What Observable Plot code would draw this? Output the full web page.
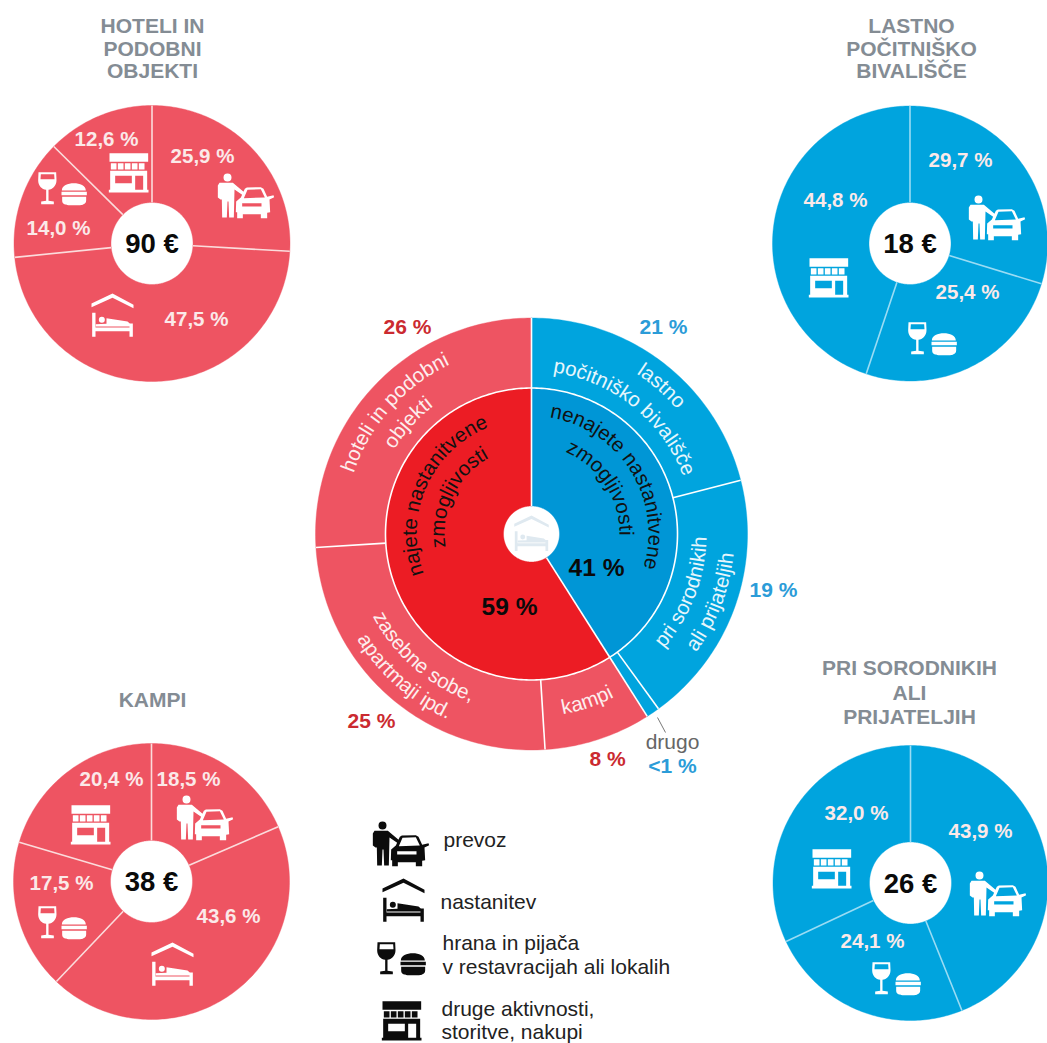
<!DOCTYPE html>
<html lang="sl">
<head>
<meta charset="utf-8">
<title>Izdatki po vrsti nastanitve</title>
<script src="https://cdn.jsdelivr.net/npm/d3@7"></script>
<script src="https://cdn.jsdelivr.net/npm/@observablehq/plot@0.6"></script>
<style>
html,body{margin:0;padding:0;background:#fff}
svg{display:block}
</style>
</head>
<body>
<div id="chart"></div>
<script>
// ---------- values ----------
const expenseKinds = ["prevoz", "nastanitev", "hrana", "druge"];
const hoteliKinds = ["prevoz", "nastanitev", "hrana", "druge"];
const hoteliShares = [25.9, 47.5, 14.0, 12.6];
const hoteliAmount = "90 €";
const lastnoKinds = ["prevoz", "hrana", "druge"];
const lastnoShares = [29.7, 25.4, 44.8];
const lastnoAmount = "18 €";
const kampiKinds = ["prevoz", "nastanitev", "hrana", "druge"];
const kampiShares = [18.5, 43.6, 17.5, 20.4];
const kampiAmount = "38 €";
const sorodnikiKinds = ["prevoz", "hrana", "druge"];
const sorodnikiShares = [43.9, 24.1, 32.0];
const sorodnikiAmount = "26 €";

const innerGroups = ["nenajete nastanitvene zmogljivosti", "najete nastanitvene zmogljivosti"];
const innerShares = [41, 59];
const outerGroups = ["lastno počitniško bivališče", "pri sorodnikih ali prijateljih", "drugo", "kampi", "zasebne sobe, apartmaji ipd.", "hoteli in podobni objekti"];
const outerShares = [21, 19, 1, 8, 25, 26];

const legendLines = [
  ["prevoz"],
  ["nastanitev"],
  ["hrana in pijača", "v restavracijah ali lokalih"],
  ["druge aktivnosti,", "storitve, nakupi"]
];

// ---------- palette and type ----------
const RED = "#ee5462", DEEP_RED = "#ec1c24", BLUE = "#00a4de", DEEP_BLUE = "#0096d6";
const SANS = "'Liberation Sans', Arial, sans-serif";

// ---------- layout (chart space, one unit = one CSS pixel) ----------
const W = 1047, H = 1043;
const hub = {cx: 531, cy: 533.5, r0: 28, r1: 146, r2: 216};

const smallPies = [
  {name: "hoteli", kinds: hoteliKinds, shares: hoteliShares, amount: hoteliAmount, fill: RED, spoke: "#fbdcdc",
   cx: 151.5, cy: 243, r: 138,
   title: [["HOTELI IN", 152, 26], ["PODOBNI", 152, 49], ["OBJEKTI", 152, 71]],
   labels: {prevoz: [202, 156], nastanitev: [196, 319], hrana: [58, 228], druge: [106, 139]},
   icons: {prevoz: [245, 195], nastanitev: [112, 315], hrana: [62, 188], druge: [128, 172]}},
  {name: "lastno", kinds: lastnoKinds, shares: lastnoShares, amount: lastnoAmount, fill: BLUE, spoke: "#9adcf4",
   cx: 909.5, cy: 243, r: 137.5,
   title: [["LASTNO", 911, 26], ["POČITNIŠKO", 911, 49], ["BIVALIŠČE", 911, 71]],
   labels: {prevoz: [960, 160], hrana: [967, 292], druge: [835, 200]},
   icons: {prevoz: [996, 217], hrana: [932, 338], druge: [828, 277]}},
  {name: "kampi", kinds: kampiKinds, shares: kampiShares, amount: kampiAmount, fill: RED, spoke: "#fbdcdc",
   cx: 151, cy: 881, r: 138,
   title: [["KAMPI", 152, 700]],
   labels: {prevoz: [188, 779], nastanitev: [228, 916], hrana: [61, 883], druge: [111, 779]},
   icons: {prevoz: [204, 817], nastanitev: [172, 964], hrana: [62, 922], druge: [90, 824]}},
  {name: "sorodniki", kinds: sorodnikiKinds, shares: sorodnikiShares, amount: sorodnikiAmount, fill: BLUE, spoke: "#9adcf4",
   cx: 910, cy: 882.5, r: 137.5,
   title: [["PRI SORODNIKIH", 909, 668], ["ALI", 909, 693], ["PRIJATELJIH", 909, 717]],
   labels: {prevoz: [980, 831], hrana: [872, 941], druge: [856, 813]},
   icons: {prevoz: [997, 893], hrana: [896, 978], druge: [831, 868]}}
];
const PIE_HOLE = 41;

// outer-ring percentages around the hub
const hubLabels = [
  {text: "21 %", x: 663, y: 327, fill: "#2b9cd8", i: 0},
  {text: "19 %", x: 773, y: 590, fill: "#2b9cd8", i: 1},
  {text: "<1 %", x: 672, y: 766, fill: "#2b9cd8", i: 2},
  {text: "8 %",  x: 607, y: 759, fill: "#cb2a30", i: 3},
  {text: "25 %", x: 371, y: 721, fill: "#cb2a30", i: 4},
  {text: "26 %", x: 407, y: 327, fill: "#cb2a30", i: 5}
];
const hubInnerLabels = [
  {text: "41 %", x: 596, y: 568},
  {text: "59 %", x: 509, y: 607}
];
// curved captions: mid angle (degrees clockwise from 12 o'clock), mid radius, direction
const curved = [
  {t: "lastno", a: 41.5, r: 197, cw: true, fill: "#e6f6fc"},
  {t: "počitniško bivališče", a: 38.6, r: 168, cw: true, fill: "#e6f6fc"},
  {t: "pri sorodnikih", a: 111, r: 170, cw: false, fill: "#e6f6fc"},
  {t: "ali prijateljih", a: 110.7, r: 198, cw: false, fill: "#e6f6fc"},
  {t: "kampi", a: 161.5, r: 178, cw: false, fill: "#fdeeee"},
  {t: "zasebne sobe,", a: 221, r: 173, cw: false, fill: "#fdeeee"},
  {t: "apartmaji ipd.", a: 221.5, r: 198, cw: false, fill: "#fdeeee"},
  {t: "hoteli in podobni", a: 311.6, r: 193, cw: true, fill: "#fdeeee"},
  {t: "objekti", a: 312, r: 166, cw: true, fill: "#fdeeee"},
  {t: "najete nastanitvene", a: 294, r: 120, cw: true, fill: "#111"},
  {t: "zmogljivosti", a: 296, r: 92, cw: true, fill: "#111"},
  {t: "nenajete nastanitvene", a: 58, r: 123, cw: true, fill: "#111"},
  {t: "zmogljivosti", a: 57, r: 94, cw: true, fill: "#111"}
];

const legendIconAt = {prevoz: [400, 843], nastanitev: [403, 900], hrana: [401, 958], druge: [401, 1020]};
const legendTextAt = [
  [[443, 840]],
  [[440, 902]],
  [[442, 943], [442, 967]],
  [[441, 1009], [441, 1032]]
];

// ---------- geometry helpers ----------
const polar = (cx, cy, r, deg) => {
  const t = deg * Math.PI / 180;
  return [cx + r * Math.sin(t), cy - r * Math.cos(t)];
};
function wedge(id, fill, cx, cy, r0, r1, a0, a1) {
  const n = Math.max(2, Math.ceil(a1 - a0));
  const pts = [];
  for (let i = 0; i <= n; ++i) pts.push(polar(cx, cy, r1, a0 + (a1 - a0) * i / n));
  for (let i = n; i >= 0; --i) pts.push(polar(cx, cy, r0, a0 + (a1 - a0) * i / n));
  return pts.map(([x, y]) => ({id, fill, x, y}));
}
const cumulate = shares => {
  const total = d3.sum(shares);
  let run = 0;
  return shares.map(s => { const a0 = run / total * 360; run += s; return [a0, run / total * 360]; });
};

// ---------- icons as Plot.dot symbols (drawn around the dot's centre, r = 28 → legend size) ----------
function iconSymbol(ox, oy, paint) {
  return {
    draw(c, size) {
      const k = Math.sqrt(size / Math.PI) / 84; // source sketch is 3× the legend size
      const X = x => (x - ox) * k, Y = y => (y - oy) * k;
      const pen = {
        poly(pts) { pts.forEach(([x, y], i) => i ? c.lineTo(X(x), Y(y)) : c.moveTo(X(x), Y(y))); c.closePath(); },
        rect(x, y, w, h, hole) {
          const p = [[x, y], [x + w, y], [x + w, y + h], [x, y + h]];
          pen.poly(hole ? p.reverse() : p);
        },
        disc(x, y, r, hole) { c.moveTo(X(x + r), Y(y)); c.arc(X(x), Y(y), r * k, 0, 2 * Math.PI, !!hole); c.closePath(); },
        curve(...a) { c.bezierCurveTo(...a.map((v, i) => i % 2 ? Y(v) : X(v))); },
        move(x, y) { c.moveTo(X(x), Y(y)); }, line(x, y) { c.lineTo(X(x), Y(y)); }, close() { c.closePath(); }
      };
      paint(pen);
    }
  };
}
const carIcon = iconSymbol(150, 100, p => {
  p.disc(96, 46, 12);
  p.poly([[72, 62], [112, 62], [146, 90], [140, 98], [117, 82], [115, 166], [101, 166], [99, 118], [96, 118], [94, 166], [80, 166], [79, 112], [75, 112], [67, 106], [67, 70]]);
  p.poly([[122, 118], [136, 106], [148, 80], [154, 76], [196, 75], [204, 80], [215, 104], [234, 99], [236, 105], [222, 112], [224, 150], [215, 152], [215, 168], [196, 168], [196, 156], [142, 156], [142, 168], [125, 168], [125, 150], [121, 150]]);
  p.poly([[156, 83], [145, 108], [208, 106], [196, 81]]);
  p.rect(140, 123, 58, 10, true);
});
const bedIcon = iconSymbol(160, 270, p => {
  p.poly([[97, 234], [160, 204], [223, 238], [223, 248], [160, 217], [97, 245]]);
  p.rect(99, 262, 10, 72);
  p.rect(211, 294, 10, 40);
  p.rect(99, 306, 122, 11);
  p.disc(128, 283, 9);
  p.poly([[142, 278], [205, 288], [219, 300], [219, 303], [110, 303], [110, 296], [142, 295]]);
});
const foodIcon = iconSymbol(152, 440, p => {
  p.move(80, 391); p.line(133, 391); p.line(134, 415); p.curve(134, 432, 122, 442, 110, 444);
  p.line(110, 477); p.line(126, 479); p.line(126, 487); p.line(88, 487); p.line(88, 479); p.line(103, 477); p.line(103, 444);
  p.curve(90, 442, 79, 432, 79, 415); p.close();
  p.poly([[87, 397], [86, 412], [128, 412], [127, 397]]);
  p.move(150, 446); p.curve(150, 431, 168, 424, 186, 424); p.curve(204, 424, 222, 431, 222, 446); p.close();
  p.rect(149, 450, 76, 10);
  p.move(151, 465); p.line(223, 465); p.line(223, 476); p.curve(223, 486, 212, 490, 205, 490); p.line(170, 490); p.curve(160, 490, 151, 486, 151, 476); p.close();
});
const shopIcon = iconSymbol(152, 636, p => {
  p.rect(95, 578, 116, 26);
  [99, 120, 141, 162, 183].forEach(x => p.rect(x, 608, 17, 19));
  p.rect(97, 631, 111, 59);
  p.rect(112, 646, 50, 22, true);
  p.rect(172, 646, 24, 44, true);
  p.rect(93, 688, 119, 8);
});
const iconOf = {prevoz: carIcon, nastanitev: bedIcon, hrana: foodIcon, druge: shopIcon};

// ---------- derived tables for the marks ----------
const wedges = [];
const spokes = [];
const pieLabels = [];
const amountLabels = [];
const titleLabels = [];
const iconsWhite = [];
const fmt = v => v.toFixed(1).replace(".", ",") + " %";

for (const pie of smallPies) {
  const spans = cumulate(pie.shares);
  pie.kinds.forEach((kind, i) => {
    wedges.push(...wedge(pie.name + i, pie.fill, pie.cx, pie.cy, PIE_HOLE, pie.r, spans[i][0], spans[i][1]));
    const [x1, y1] = polar(pie.cx, pie.cy, PIE_HOLE, spans[i][0]);
    const [x2, y2] = polar(pie.cx, pie.cy, pie.r, spans[i][0]);
    spokes.push({x1, y1, x2, y2, stroke: pie.spoke});
    const at = pie.labels[kind];
    pieLabels.push({text: fmt(pie.shares[i]), x: at[0], y: at[1]});
    const ic = pie.icons[kind];
    iconsWhite.push({kind, x: ic[0], y: ic[1]});
  });
  amountLabels.push({text: pie.amount, x: pie.cx, y: pie.cy + 1});
  pie.title.forEach(([text, x, y]) => titleLabels.push({text, x, y}));
}

const outerFills = [BLUE, BLUE, BLUE, RED, RED, RED];
const innerFills = [DEEP_BLUE, DEEP_RED];
cumulate(outerShares).forEach(([a0, a1], i) => {
  wedges.push(...wedge("outer" + i, outerFills[i], hub.cx, hub.cy, hub.r1, hub.r2, a0, a1));
  const [x1, y1] = polar(hub.cx, hub.cy, hub.r1, a0);
  const [x2, y2] = polar(hub.cx, hub.cy, hub.r2, a0);
  spokes.push({x1, y1, x2, y2, stroke: "#fff"});
});
cumulate(innerShares).forEach(([a0, a1], i) => {
  wedges.push(...wedge("inner" + i, innerFills[i], hub.cx, hub.cy, hub.r0, hub.r1, a0, a1));
  const [x1, y1] = polar(hub.cx, hub.cy, hub.r0, a0);
  const [x2, y2] = polar(hub.cx, hub.cy, hub.r1, a0);
  spokes.push({x1, y1, x2, y2, stroke: "#fff"});
});
const ringLine = d3.range(0, 361, 1).map(a => { const [x, y] = polar(hub.cx, hub.cy, hub.r1, a); return {x, y}; });

const legendRows = legendLines.flatMap((lines, i) => lines.map((text, j) => ({text, x: legendTextAt[i][j][0], y: legendTextAt[i][j][1]})));
const legendIcons = expenseKinds.map(kind => ({kind, x: legendIconAt[kind][0], y: legendIconAt[kind][1]}));

// ---------- shared mark helpers ----------
const label = (rows, fontSize, fontWeight, fill) => Plot.text(rows, {
  x: "x", y: "y", text: "text", fontSize, fontWeight, fill,
  fontFamily: SANS, textAnchor: "middle", lineAnchor: "middle"
});
const iconMark = (rows, kind, fill, r = 28) => Plot.dot(rows.filter(d => d.kind === kind), {
  x: "x", y: "y", r, symbol: iconOf[kind], fill, stroke: "none"
});

// curved captions use an SVG textPath, placed through the plot's own x and y scales
function curvedCaptions(index, {x, y}) {
  const g = d3.create("svg:g").attr("font-family", SANS).attr("font-size", 20.5);
  const px = x(1) - x(0);
  curved.forEach((d, i) => {
    const radius = (d.cw ? d.r - 5.5 : d.r + 5.5) * px;
    const c = d.a * Math.PI / 180 - Math.PI / 2;
    const span = 2 * Math.PI / 3;
    const path = d3.path();
    if (d.cw) path.arc(x(hub.cx), y(hub.cy), radius, c - span, c + span, false);
    else path.arc(x(hub.cx), y(hub.cy), radius, c + span, c - span, true);
    const id = "caption-arc-" + i;
    g.append("path").attr("id", id).attr("d", path.toString()).attr("fill", "none");
    g.append("text").attr("fill", d.fill).attr("text-anchor", "middle")
      .append("textPath").attr("href", "#" + id).attr("startOffset", "50%").text(d.t);
  });
  return g.node();
}

const chart = Plot.plot({
  width: W, height: H,
  margin: 0,
  x: {domain: [0, W], range: [0, W], axis: null},
  y: {domain: [0, H], range: [0, H], axis: null},
  color: {type: "identity"},
  style: {background: "#fff"},
  marks: [
    Plot.line(wedges, {x: "x", y: "y", z: "id", fill: "fill", stroke: "fill", strokeWidth: 0.4, curve: "linear"}),
    Plot.link(spokes, {x1: "x1", y1: "y1", x2: "x2", y2: "y2", stroke: "stroke", strokeWidth: 1.6}),
    Plot.line(ringLine, {x: "x", y: "y", stroke: "#fff", strokeWidth: 1.6}),
    Plot.link([{x1: 657, y1: 717, x2: 665, y2: 732}], {x1: "x1", y1: "y1", x2: "x2", y2: "y2", stroke: "#555", strokeWidth: 0.8}),
    ...expenseKinds.map(k => iconMark(iconsWhite, k, "#fff")),
    ...expenseKinds.map(k => iconMark(legendIcons, k, "#0c0c0c")),
    iconMark([{kind: "nastanitev", x: 531, y: 533}], "nastanitev", "#dfe9f0", 23),
    label(titleLabels, 21, 700, "#848c94"),
    label(pieLabels, 20.5, 700, "#fbe9e9"),
    label(amountLabels, 27.5, 700, "#0a0a0a"),
    Plot.text(hubLabels, {x: "x", y: "y", text: "text", fill: "fill", fontSize: 21, fontWeight: 700, fontFamily: SANS, textAnchor: "middle", lineAnchor: "middle"}),
    label([{text: "drugo", x: 672, y: 742}], 21, 400, "#666"),
    label(hubInnerLabels, 24.5, 700, "#0a0a0a"),
    curvedCaptions,
    Plot.text(legendRows, {x: "x", y: "y", text: "text", fontSize: 21, fontFamily: SANS, fill: "#222", textAnchor: "start", lineAnchor: "middle"})
  ]
});
document.getElementById("chart").append(chart);
</script>
</body>
</html>
